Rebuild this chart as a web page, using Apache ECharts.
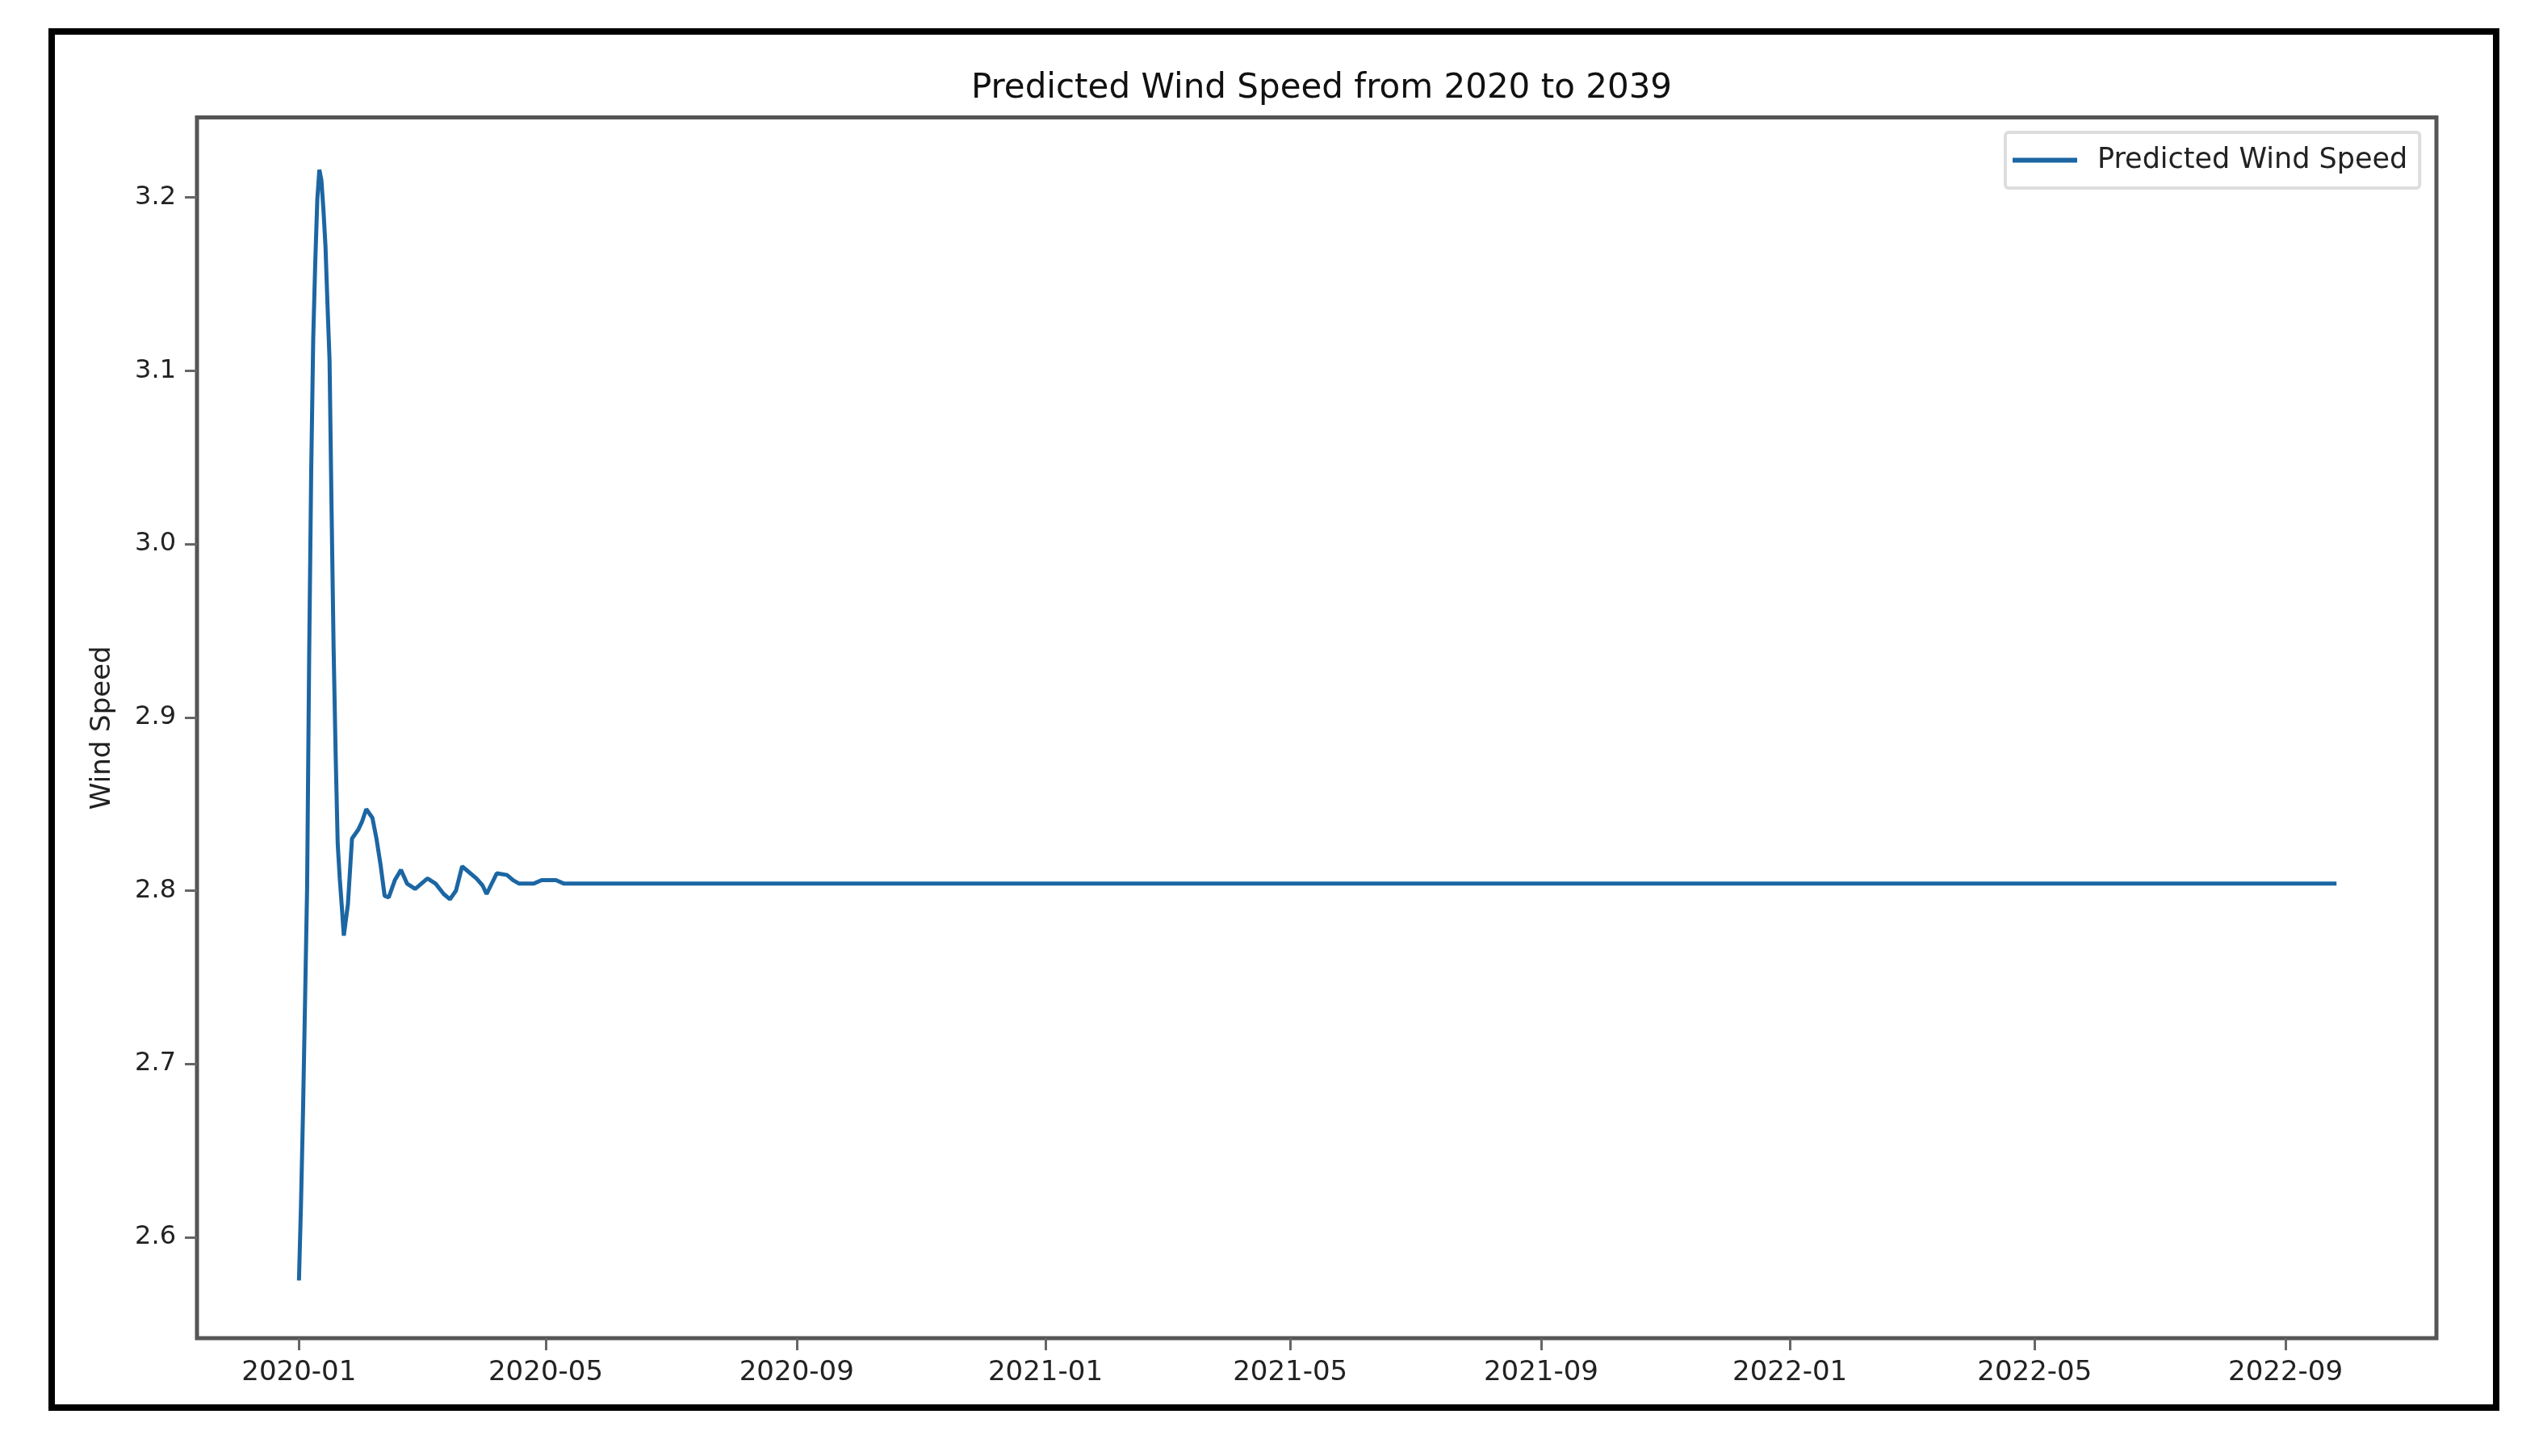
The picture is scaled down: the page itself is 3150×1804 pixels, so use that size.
<!DOCTYPE html>
<html><head><meta charset="utf-8">
<script src="https://cdn.jsdelivr.net/npm/echarts@6/dist/echarts.min.js"></script>
<style>html,body{margin:0;padding:0;background:#fff;}#c{width:3150px;height:1804px;}</style>
</head><body><div id="c"></div>
<script>
// ---- data ----
const chartTitle = 'Predicted Wind Speed from 2020 to 2039';
const seriesName = 'Predicted Wind Speed';
const yAxisName = 'Wind Speed';
const dates = [
  '2020-01-01','2020-01-02','2020-01-03','2020-01-04','2020-01-05','2020-01-06','2020-01-07',
  '2020-01-08','2020-01-09','2020-01-10','2020-01-11','2020-01-12','2020-01-13','2020-01-14',
  '2020-01-15','2020-01-16','2020-01-17','2020-01-18','2020-01-19','2020-01-20','2020-01-21',
  '2020-01-22','2020-01-23','2020-01-25','2020-01-27','2020-01-30','2020-02-01','2020-02-03',
  '2020-02-06','2020-02-08','2020-02-10','2020-02-12','2020-02-14','2020-02-17','2020-02-20',
  '2020-02-23','2020-02-27','2020-03-04','2020-03-08','2020-03-12','2020-03-15','2020-03-18',
  '2020-03-21','2020-03-25','2020-03-28','2020-03-31','2020-04-02','2020-04-07','2020-04-12',
  '2020-04-15','2020-04-18','2020-04-25','2020-04-29','2020-05-06','2020-05-10','2022-09-26'
];
const windSpeed = [
  2.575, 2.619, 2.673, 2.737, 2.802, 2.935, 3.042,
  3.119, 3.163, 3.199, 3.216, 3.210, 3.193, 3.172,
  3.138, 3.106, 3.019, 2.939, 2.878, 2.827, 2.807,
  2.791, 2.774, 2.792, 2.830, 2.835, 2.840, 2.847,
  2.842, 2.830, 2.815, 2.797, 2.796, 2.806, 2.812,
  2.804, 2.801, 2.807, 2.804, 2.798, 2.795, 2.800,
  2.814, 2.810, 2.807, 2.803, 2.798, 2.810, 2.809,
  2.806, 2.804, 2.804, 2.806, 2.806, 2.804, 2.804
];
const yTicks = [2.6, 2.7, 2.8, 2.9, 3.0, 3.1, 3.2];
const xTicks = ['2020-01-01','2020-05-01','2020-09-01','2021-01-01','2021-05-01',
                '2021-09-01','2022-01-01','2022-05-01','2022-09-01'];
const xRange = ['2019-11-12', '2022-11-14'];
const yRange = [2.5417, 3.2462];

// ---- helpers ----
function ts(s) { const p = s.split('-').map(Number); return Date.UTC(p[0], p[1] - 1, p[2]); }
function ym(v) { const d = new Date(v); return d.getUTCFullYear() + '-' + String(d.getUTCMonth() + 1).padStart(2, '0'); }

const FONT = 'DejaVu Sans';
const lineColor = '#1c66a3';
const chart = echarts.init(document.getElementById('c'), null, { renderer: 'canvas' });
chart.setOption({
  animation: false,
  backgroundColor: '#fff',
  title: {
    text: chartTitle, left: 1632, top: 84, textAlign: 'center',
    textStyle: { fontFamily: FONT, fontSize: 42, fontWeight: 'normal', color: '#111' }
  },
  grid: {
    left: 244, right: 132, top: 145.5, bottom: 146,
    show: true, borderColor: '#555', borderWidth: 5, backgroundColor: 'transparent'
  },
  legend: {
    data: [seriesName], left: 2484, top: 164, orient: 'horizontal',
    icon: 'rect', itemWidth: 80, itemHeight: 6,
    padding: [17, 15, 17, 9],
    borderColor: '#ddd', borderWidth: 4, borderRadius: 4, backgroundColor: '#fff',
    textStyle: { fontFamily: FONT, fontSize: 35, color: '#222', padding: [0, 0, 0, 20] }
  },
  xAxis: {
    type: 'value', min: ts(xRange[0]), max: ts(xRange[1]),
    axisLine: { show: false }, splitLine: { show: false }, minorTick: { show: false },
    axisTick: { show: true, length: 15, lineStyle: { color: '#666', width: 3 }, customValues: xTicks.map(ts) },
    axisLabel: {
      customValues: xTicks.map(ts), formatter: v => ym(v), hideOverlap: false,
      fontFamily: FONT, fontSize: 34, color: '#222', margin: 26
    }
  },
  yAxis: {
    type: 'value', min: yRange[0], max: yRange[1],
    name: yAxisName, nameLocation: 'middle', nameGap: 100,
    nameTextStyle: { fontFamily: FONT, fontSize: 34, color: '#222' },
    axisLine: { show: false }, splitLine: { show: false },
    axisTick: { show: true, length: 15, lineStyle: { color: '#666', width: 3 }, customValues: yTicks },
    axisLabel: {
      customValues: yTicks, formatter: v => Number(v).toFixed(1),
      fontFamily: FONT, fontSize: 32, color: '#222', margin: 26
    }
  },
  series: [{
    type: 'line', name: seriesName,
    data: dates.map((d, i) => [ts(d), windSpeed[i]]),
    showSymbol: false, symbol: 'none',
    lineStyle: { color: lineColor, width: 5 }, itemStyle: { color: lineColor }
  }],
  graphic: [{
    type: 'rect', silent: true, z: 100,
    shape: { x: 64, y: 39, width: 3028, height: 1705 },
    style: { fill: 'none', stroke: '#000', lineWidth: 8 }
  }]
});
</script></body></html>
